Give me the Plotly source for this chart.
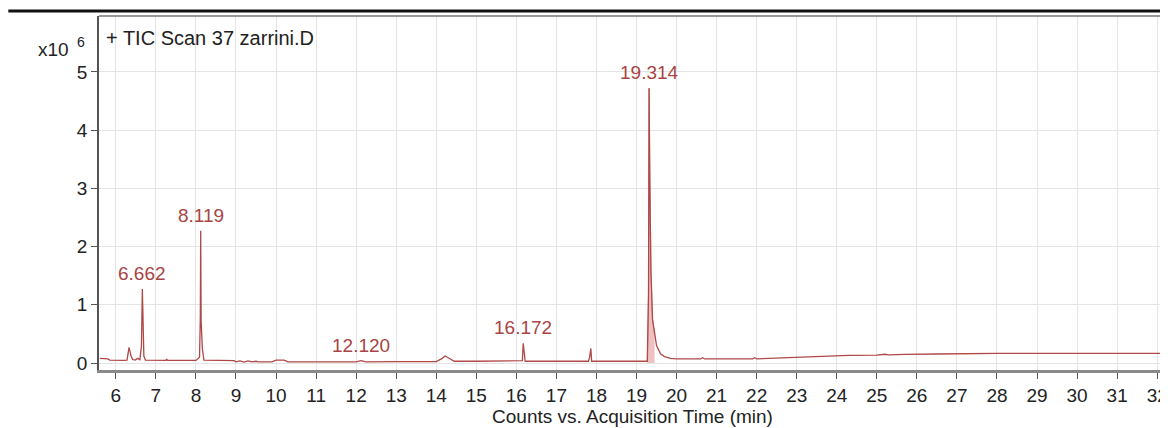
import plotly.graph_objects as go

# Chromatogram (time in min, counts in units of 1e6)
time = [5.60, 5.70, 5.80, 5.85, 6.00, 6.20, 6.28, 6.33, 6.38, 6.42, 6.48, 6.55, 6.60, 6.64, 6.662, 6.675,
        6.70, 6.74, 7.00, 7.25, 7.27, 7.29, 7.60, 8.00, 8.09, 8.11, 8.119, 8.13, 8.16, 8.20, 8.60, 8.95,
        9.00, 9.10, 9.20, 9.30, 9.40, 9.50, 9.55, 9.90, 10.00, 10.20, 10.30, 11.00, 12.00, 12.12, 12.25,
        13.00, 14.00, 14.15, 14.22, 14.30, 14.45, 15.00, 16.00, 16.15, 16.172, 16.19, 16.22, 17.00, 17.80,
        17.83, 17.86, 17.88, 18.50, 19.20, 19.27, 19.30, 19.314, 19.33, 19.36, 19.40, 19.45, 19.50, 19.60,
        19.70, 19.85, 20.00, 20.60, 20.65, 20.70, 21.00, 21.90, 21.95, 22.00, 22.30, 23.00, 23.50, 24.00,
        24.30, 25.00, 25.20, 25.30, 25.70, 26.50, 27.00, 28.00, 30.00, 32.30]
counts = [0.08, 0.075, 0.07, 0.05, 0.045, 0.045, 0.05, 0.27, 0.12, 0.06, 0.05, 0.08, 0.05, 0.30, 1.27, 0.72,
          0.12, 0.05, 0.045, 0.045, 0.07, 0.045, 0.045, 0.045, 0.10, 0.80, 2.27, 0.72, 0.25, 0.05, 0.045, 0.04,
          0.02, 0.035, 0.015, 0.035, 0.02, 0.03, 0.02, 0.02, 0.05, 0.05, 0.02, 0.02, 0.02, 0.04, 0.02,
          0.025, 0.025, 0.08, 0.12, 0.09, 0.03, 0.03, 0.03, 0.04, 0.34, 0.20, 0.03, 0.03, 0.03,
          0.10, 0.25, 0.03, 0.03, 0.03, 0.03, 1.20, 4.72, 3.20, 1.60, 0.75, 0.50, 0.30, 0.16,
          0.11, 0.08, 0.07, 0.07, 0.09, 0.07, 0.07, 0.07, 0.09, 0.07, 0.08, 0.10, 0.105, 0.12,
          0.13, 0.135, 0.15, 0.14, 0.15, 0.155, 0.16, 0.165, 0.165, 0.165]

# Integrated region of main peak
fill_start = 19.27
fill_end = 19.45

# Peak labels
peak_labels = ["6.662", "8.119", "12.120", "16.172", "19.314"]
peak_times = [6.662, 8.119, 12.120, 16.172, 19.314]
peak_heights = [1.27, 2.27, 0.04, 0.34, 4.72]

x_ticks = list(range(6, 33))
y_ticks = [0, 1, 2, 3, 4, 5]

LINE = "#b04848"
LABEL = "#a84444"
FONT = "Liberation Sans, Arial, sans-serif"

fig = go.Figure()

fx = [t for t in time if fill_start <= t <= fill_end]
fy = [c for t, c in zip(time, counts) if fill_start <= t <= fill_end]
fig.add_trace(go.Scatter(x=fx, y=fy, mode="lines", line=dict(color=LINE, width=0.5),
                         fill="tozeroy", fillcolor="rgba(225,140,140,0.55)", hoverinfo="skip"))
fig.add_trace(go.Scatter(x=time, y=counts, mode="lines", line=dict(color=LINE, width=1.3)))

for lab, t, h in zip(peak_labels, peak_times, peak_heights):
    fig.add_annotation(x=t, y=h, text=lab, showarrow=False, yanchor="bottom", xanchor="center",
                       yshift=3, font=dict(family=FONT, size=19, color=LABEL))

# header texts
fig.add_annotation(xref="paper", yref="paper", x=0.0047, y=0.938, text="+ TIC Scan 37 zarrini.D",
                   showarrow=False, xanchor="left", yanchor="middle",
                   font=dict(family=FONT, size=20, color="#222"))
fig.add_annotation(xref="paper", yref="paper", x=-0.0262, y=0.905, text="x10",
                   showarrow=False, xanchor="right", yanchor="middle",
                   font=dict(family=FONT, size=19, color="#222"))
fig.add_annotation(xref="paper", yref="paper", x=-0.0170, y=0.926, text="6",
                   showarrow=False, xanchor="center", yanchor="middle",
                   font=dict(family=FONT, size=14, color="#222"))

# top black rule and top frame
fig.add_shape(type="line", xref="paper", yref="paper", x0=-0.085, x1=1.0, y0=1.014, y1=1.014,
              line=dict(color="#111", width=3))
fig.add_shape(type="line", xref="paper", yref="paper", x0=0, x1=1.0, y0=1.0, y1=1.0,
              line=dict(color="#777", width=1.5))

fig.update_xaxes(range=[5.58, 32.22], tickvals=x_ticks, ticktext=[str(v) for v in x_ticks],
                 ticks="outside", ticklen=6, tickcolor="#555", showgrid=True, gridcolor="#e4e4e4",
                 showline=True, linecolor="#8a8a8a", linewidth=3, zeroline=False,
                 ticklabeloverflow="allow",
                 tickfont=dict(family=FONT, size=19, color="#222"),
                 title=dict(text="Counts vs. Acquisition Time (min)", standoff=0,
                            font=dict(family=FONT, size=19, color="#222")))
fig.update_yaxes(range=[-0.12, 5.96], tickvals=y_ticks, ticks="outside", ticklen=6, tickcolor="#555",
                 showgrid=True, gridcolor="#e4e4e4", showline=True, linecolor="#555", linewidth=1.5,
                 zeroline=False, tickfont=dict(family=FONT, size=19, color="#222"))

# page body has an 8px margin, so the figure is sized to fit the 1168x428 window
fig.update_layout(width=1160, height=420, margin=dict(l=91, r=0, t=8, b=58),
                  paper_bgcolor="white", plot_bgcolor="white", showlegend=False)

fig.write_html("out.html")
